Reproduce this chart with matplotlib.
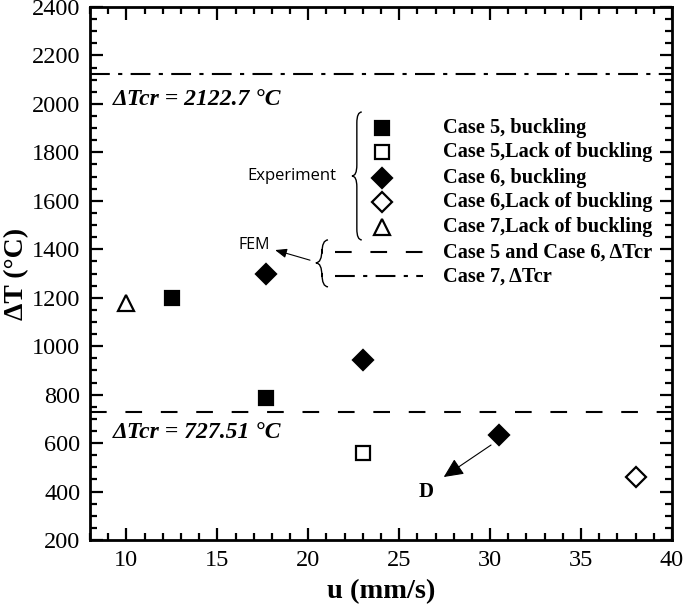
import numpy as np
import matplotlib.pyplot as plt
from matplotlib.path import Path
from matplotlib.patches import PathPatch

# --- donnees ---
u_c5_buck = [12.5, 17.7]
T_c5_buck = [1200, 785]
u_c5_nobuck = [23.0]
T_c5_nobuck = [560]
u_c6_buck = [17.7, 23.0, 30.5]
T_c6_buck = [1300, 945, 635]
u_c6_nobuck = [38.0]
T_c6_nobuck = [460]
u_c7_nobuck = [10.0]
T_c7_nobuck = [1180]

dTcr_56 = 727.51
dTcr_7 = 2122.7

labels_exp = ["Case 5, buckling", "Case 5,Lack of buckling", "Case 6, buckling",
              "Case 6,Lack of buckling", "Case 7,Lack of buckling"]
labels_fem = ["Case 5 and Case 6, \u0394Tcr", "Case 7, \u0394Tcr"]

SERIF = "Liberation Serif"
DASH = (0, (8, 9))
DASHDOT = (0, (9.5, 4, 2, 4))

fig = plt.figure(figsize=(6.85, 6.09), dpi=100)
ax = fig.add_axes([0.1314, 0.1133, 0.8496, 0.8752])

# series
mk = dict(linestyle="none", color="black", mew=1.6, clip_on=False)
ax.plot(u_c5_buck, T_c5_buck, marker="s", ms=9.5, mfc="black", **mk)
ax.plot(u_c5_nobuck, T_c5_nobuck, marker="s", ms=9.5, mfc="white", **mk)
ax.plot(u_c6_buck, T_c6_buck, marker="D", ms=10, mfc="black", **mk)
ax.plot(u_c6_nobuck, T_c6_nobuck, marker="D", ms=10, mfc="white", **mk)
ax.plot(u_c7_nobuck, T_c7_nobuck, marker="^", ms=12, mfc="white", **mk)

ax.axhline(dTcr_56, color="black", lw=1.5, linestyle=DASH)
ax.axhline(dTcr_7, color="black", lw=1.5, linestyle=DASHDOT)

ax.text(0.0395, 0.827, "\u0394Tcr = %.1f \u00b0C" % dTcr_7, transform=ax.transAxes,
        ha="left", va="center", fontsize=17, family=SERIF, weight="bold", style="italic")
ax.text(0.0395, 0.2008, "\u0394Tcr = %.2f \u00b0C" % dTcr_56, transform=ax.transAxes,
        ha="left", va="center", fontsize=17, family=SERIF, weight="bold", style="italic")

# fleche D
ax.annotate("", xy=(27.45, 460), xytext=(30.05, 592),
            arrowprops=dict(arrowstyle="-|>,head_length=0.6,head_width=0.28",
                            color="black", lw=0.8, mutation_scale=20, shrinkA=0, shrinkB=0))
ax.text(26.47, 398, "D", ha="center", va="center", fontsize=15, family=SERIF, weight="bold")

# --- legende manuelle ---
tr = ax.transAxes
rows_y = [0.773, 0.728, 0.679, 0.634, 0.587, 0.540, 0.495]
styles = [("s", "black"), ("s", "white"), ("D", "black"), ("D", "white"), ("^", "white")]
sizes = {"s": 9.5, "D": 10, "^": 12}
for (m, fc), lab, y in zip(styles, labels_exp, rows_y[:5]):
    ax.plot([0.502], [y], transform=tr, marker=m, ms=sizes[m], mfc=fc, **mk)
    ax.text(0.6065, y, lab, transform=tr, ha="left", va="center",
            fontsize=14.7, family=SERIF, weight="bold")
for ls, lab, y in zip([DASH, DASHDOT], labels_fem, rows_y[5:]):
    ax.plot([0.421, 0.572], [y, y], transform=tr, color="black", lw=1.5, linestyle=ls)
    ax.text(0.6065, y, lab, transform=tr, ha="left", va="center",
            fontsize=14.7, family=SERIF, weight="bold")


def brace(x_tip, x_end, y0, y1, ym):
    xm = (x_tip + x_end) / 2
    r = (x_end - x_tip) * 1.2
    verts = [(x_end, y1), (xm, y1), (xm, y1 - r), (xm, ym + r), (xm, ym), (x_tip, ym),
             (xm, ym), (xm, ym - r), (xm, y0 + r), (xm, y0), (x_end, y0)]
    codes = [Path.MOVETO, Path.CURVE3, Path.CURVE3, Path.LINETO, Path.CURVE3, Path.CURVE3,
             Path.CURVE3, Path.CURVE3, Path.LINETO, Path.CURVE3, Path.CURVE3]
    ax.add_patch(PathPatch(Path(verts, codes), transform=tr, fill=False,
                           color="black", lw=1.0, clip_on=False))


brace(0.450, 0.467, 0.563, 0.803, 0.683)
brace(0.388, 0.409, 0.475, 0.563, 0.520)

ax.text(0.424, 0.683, "Experiment", transform=tr, ha="right", va="center",
        fontsize=12, family="Open Sans")
ax.text(0.283, 0.553, "FEM", transform=tr, ha="center", va="center",
        fontsize=11.5, family="Open Sans")
ax.annotate("", xy=(0.318, 0.544), xytext=(0.378, 0.525), xycoords=tr, textcoords=tr,
            arrowprops=dict(arrowstyle="-|>,head_length=0.5,head_width=0.2",
                            color="black", lw=0.8, mutation_scale=14, shrinkA=0, shrinkB=0))

# --- axes ---
ax.set_xlim(8, 40)
ax.set_ylim(200, 2400)
ax.set_xticks(np.arange(10, 41, 5))
ax.set_xticks(np.arange(8, 41, 1), minor=True)
ax.set_yticks(np.arange(200, 2401, 200))
ax.set_yticks(np.arange(200, 2401, 50), minor=True)
ax.tick_params(which="both", direction="in", top=True, right=True, width=1.6)
ax.tick_params(which="major", length=9, labelsize=17.5, pad=7)
ax.tick_params(which="minor", length=5)
for lab in ax.get_xticklabels() + ax.get_yticklabels():
    lab.set_family(SERIF)
for s in ax.spines.values():
    s.set_linewidth(2)

ax.set_xlabel("u (mm/s)", fontsize=20.5, family=SERIF, weight="bold", labelpad=6)
ax.set_ylabel("\u0394T (\u00b0C)", fontsize=20, family=SERIF, weight="bold", labelpad=2)

fig.savefig("out.png", dpi=100)
